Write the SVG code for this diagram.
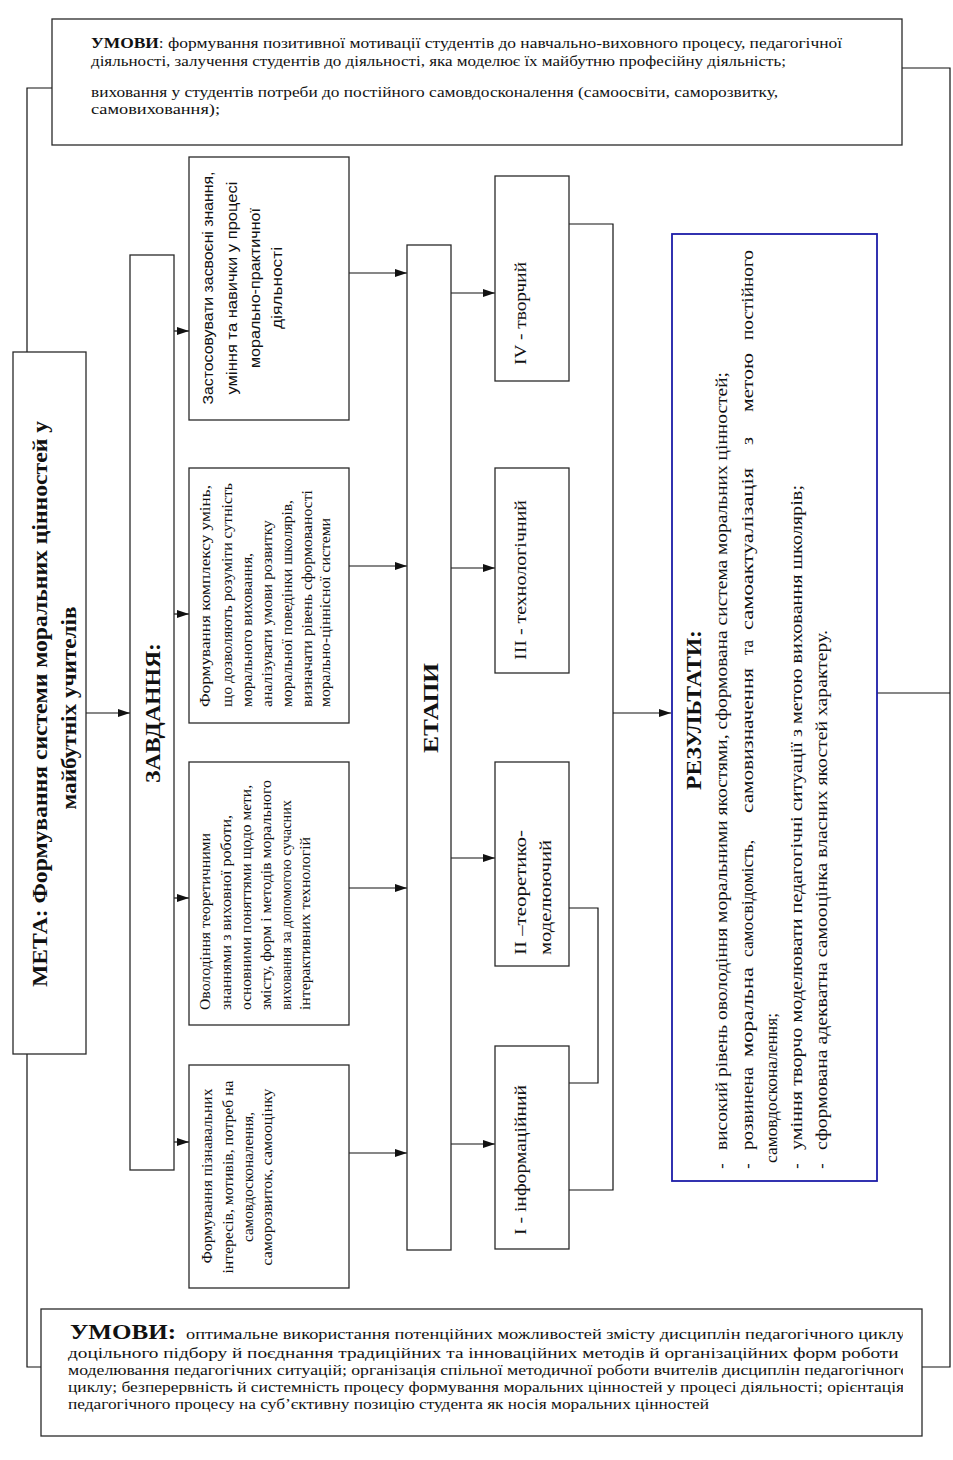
<svg xmlns="http://www.w3.org/2000/svg" width="953" height="1460" viewBox="0 0 953 1460">
<defs>
<style>
.box{fill:#fff;stroke:#2a2a2a;stroke-width:1.3}
.res{fill:#fff;stroke:#1c1ca8;stroke-width:1.8}
.ln{fill:none;stroke:#111;stroke-width:1.2}
.s{font-family:"Liberation Serif","Times New Roman",serif;fill:#111}
.a{font-family:"Liberation Sans",Arial,sans-serif;fill:#111}
.b{font-weight:bold}
.t13{font-size:14.5px}
.t15{font-size:15px}
.t16{font-size:16px}
.t17{font-size:17.5px}
.t20{font-size:21px}
.t22{font-size:22px}
</style>
<marker id="ah" viewBox="0 0 12 8" refX="12" refY="4" markerWidth="12" markerHeight="8" markerUnits="userSpaceOnUse" orient="auto"><path d="M0,0 L12,4 L0,8 z" fill="#111"/></marker>
<clipPath id="clipB"><rect x="40" y="1300" width="863" height="140"/></clipPath>
</defs>
<rect width="953" height="1460" fill="#fff"/>

<g id="connectors">
<path class="ln" d="M52,88 H27 V1367 H41"/>
<path class="ln" d="M902,68 H950 V1367 H922"/>
<path class="ln" d="M877,693 H950"/>
<path class="ln" d="M86,713 H130" marker-end="url(#ah)"/>
<path class="ln" d="M174,331 H189" marker-end="url(#ah)"/>
<path class="ln" d="M174,614 H189" marker-end="url(#ah)"/>
<path class="ln" d="M174,898 H189" marker-end="url(#ah)"/>
<path class="ln" d="M174,1142 H189" marker-end="url(#ah)"/>
<path class="ln" d="M349,273 H407" marker-end="url(#ah)"/>
<path class="ln" d="M349,566 H407" marker-end="url(#ah)"/>
<path class="ln" d="M349,888 H407" marker-end="url(#ah)"/>
<path class="ln" d="M349,1153 H407" marker-end="url(#ah)"/>
<path class="ln" d="M451,293 H495" marker-end="url(#ah)"/>
<path class="ln" d="M451,568 H495" marker-end="url(#ah)"/>
<path class="ln" d="M451,858 H495" marker-end="url(#ah)"/>
<path class="ln" d="M451,1144 H495" marker-end="url(#ah)"/>
<path class="ln" d="M569,224 H613 V1190 H569"/>
<path class="ln" d="M569,908 H598 V1083 H569"/>
<path class="ln" d="M613,713 H671" marker-end="url(#ah)"/>
</g>

<g id="umovy-top">
<rect class="box" x="52" y="19" width="850" height="126"/>
<text class="s t15" x="91" y="48" textLength="751" lengthAdjust="spacingAndGlyphs"><tspan class="b">УМОВИ</tspan>: формування позитивної мотивації студентів до навчально-виховного процесу, педагогічної</text>
<text class="s t15" x="91" y="66" textLength="695" lengthAdjust="spacingAndGlyphs">діяльності, залучення студентів до діяльності, яка моделює їх майбутню професійну діяльність;</text>
<text class="s t15" x="91" y="97" textLength="687" lengthAdjust="spacingAndGlyphs">виховання у студентів потреби до постійного самовдосконалення (самоосвіти, саморозвитку,</text>
<text class="s t15" x="91" y="114" textLength="129" lengthAdjust="spacingAndGlyphs">самовиховання);</text>
</g>

<g id="meta">
<rect class="box" x="13" y="352" width="73" height="702"/>
<text class="s b t22" transform="translate(47,704) rotate(-90)" text-anchor="middle" textLength="566" lengthAdjust="spacingAndGlyphs">МЕТА: Формування системи моральних цінностей у</text>
<text class="s b t22" transform="translate(76,708) rotate(-90)" text-anchor="middle" textLength="203" lengthAdjust="spacingAndGlyphs">майбутніх учителів</text>
</g>

<g id="zavdannia">
<rect class="box" x="130" y="255" width="44" height="915"/>
<text class="s b t22" transform="translate(160,713) rotate(-90)" text-anchor="middle" textLength="140" lengthAdjust="spacingAndGlyphs">ЗАВДАННЯ:</text>
</g>

<g id="task1">
<rect class="box" x="189" y="157" width="160" height="263"/>
<text class="a t15" transform="translate(213,288) rotate(-90)" text-anchor="middle" textLength="233" lengthAdjust="spacingAndGlyphs">Застосовувати засвоєні знання,</text>
<text class="a t15" transform="translate(237,288) rotate(-90)" text-anchor="middle" textLength="213" lengthAdjust="spacingAndGlyphs">уміння та навички у процесі</text>
<text class="a t15" transform="translate(260,288) rotate(-90)" text-anchor="middle" textLength="160" lengthAdjust="spacingAndGlyphs">морально-практичної</text>
<text class="a t15" transform="translate(282,288) rotate(-90)" text-anchor="middle" textLength="82" lengthAdjust="spacingAndGlyphs">діяльності</text>
</g>

<g id="task2">
<rect class="box" x="189" y="468" width="160" height="255"/>
<text class="s t13" transform="translate(210,707) rotate(-90)" textLength="222" lengthAdjust="spacingAndGlyphs">Формування комплексу умінь,</text>
<text class="s t13" transform="translate(232,707) rotate(-90)" textLength="224" lengthAdjust="spacingAndGlyphs">що дозволяють розуміти сутність</text>
<text class="s t13" transform="translate(252,707) rotate(-90)" textLength="154" lengthAdjust="spacingAndGlyphs">морального виховання,</text>
<text class="s t13" transform="translate(272,707) rotate(-90)" textLength="187" lengthAdjust="spacingAndGlyphs">аналізувати умови розвитку</text>
<text class="s t13" transform="translate(292,707) rotate(-90)" textLength="207" lengthAdjust="spacingAndGlyphs">моральної поведінки школярів,</text>
<text class="s t13" transform="translate(312,707) rotate(-90)" textLength="217" lengthAdjust="spacingAndGlyphs">визначати рівень сформованості</text>
<text class="s t13" transform="translate(330,707) rotate(-90)" textLength="189" lengthAdjust="spacingAndGlyphs">морально-ціннісної системи</text>
</g>

<g id="task3">
<rect class="box" x="189" y="762" width="160" height="263"/>
<text class="s t13" transform="translate(210,1010) rotate(-90)" textLength="177" lengthAdjust="spacingAndGlyphs">Оволодіння теоретичними</text>
<text class="s t13" transform="translate(231,1010) rotate(-90)" textLength="195" lengthAdjust="spacingAndGlyphs">знаннями з виховної роботи,</text>
<text class="s t13" transform="translate(251,1010) rotate(-90)" textLength="225" lengthAdjust="spacingAndGlyphs">основними поняттями щодо мети,</text>
<text class="s t13" transform="translate(271,1010) rotate(-90)" textLength="230" lengthAdjust="spacingAndGlyphs">змісту, форм і методів морального</text>
<text class="s t13" transform="translate(291,1010) rotate(-90)" textLength="210" lengthAdjust="spacingAndGlyphs">виховання за допомогою сучасних</text>
<text class="s t13" transform="translate(310,1010) rotate(-90)" textLength="173" lengthAdjust="spacingAndGlyphs">інтерактивних технологій</text>
</g>

<g id="task4">
<rect class="box" x="189" y="1065" width="160" height="223"/>
<text class="s t13" transform="translate(212,1176) rotate(-90)" text-anchor="middle" textLength="175" lengthAdjust="spacingAndGlyphs">Формування пізнавальних</text>
<text class="s t13" transform="translate(233,1177) rotate(-90)" text-anchor="middle" textLength="193" lengthAdjust="spacingAndGlyphs">інтересів, мотивів, потреб на</text>
<text class="s t13" transform="translate(253,1177) rotate(-90)" text-anchor="middle" textLength="130" lengthAdjust="spacingAndGlyphs">самовдосконалення,</text>
<text class="s t13" transform="translate(272,1177) rotate(-90)" text-anchor="middle" textLength="177" lengthAdjust="spacingAndGlyphs">саморозвиток, самооцінку</text>
</g>

<g id="etapy">
<rect class="box" x="407" y="245" width="44" height="1005"/>
<text class="s b t22" transform="translate(438,708) rotate(-90)" text-anchor="middle" textLength="90" lengthAdjust="spacingAndGlyphs">ЕТАПИ</text>
</g>

<g id="stage4">
<rect class="box" x="495" y="176" width="74" height="205"/>
<text class="s t17" transform="translate(526,365) rotate(-90)" textLength="103" lengthAdjust="spacingAndGlyphs">IV - творчий</text>
</g>
<g id="stage3">
<rect class="box" x="495" y="468" width="74" height="205"/>
<text class="s t17" transform="translate(526,660) rotate(-90)" textLength="160" lengthAdjust="spacingAndGlyphs">III - технологічний</text>
</g>
<g id="stage2">
<rect class="box" x="495" y="762" width="74" height="204"/>
<text class="s t17" transform="translate(526,955) rotate(-90)" textLength="125" lengthAdjust="spacingAndGlyphs">II –теоретико-</text>
<text class="s t17" transform="translate(551,955) rotate(-90)" textLength="115" lengthAdjust="spacingAndGlyphs">моделюючий</text>
</g>
<g id="stage1">
<rect class="box" x="495" y="1046" width="74" height="203"/>
<text class="s t17" transform="translate(526,1235) rotate(-90)" textLength="150" lengthAdjust="spacingAndGlyphs">I - інформаційний</text>
</g>

<g id="results">
<rect class="res" x="672" y="234" width="205" height="947"/>
<text class="s b t22" transform="translate(701,710) rotate(-90)" text-anchor="middle" textLength="160" lengthAdjust="spacingAndGlyphs">РЕЗУЛЬТАТИ:</text>
<text class="s t16" transform="translate(727,1166) rotate(-90)" text-anchor="middle">-</text>
<text class="s t16" transform="translate(727,1150) rotate(-90)" textLength="778" lengthAdjust="spacingAndGlyphs">високий рівень оволодіння моральними якостями, сформована система моральних цінностей;</text>
<text class="s t16" transform="translate(753,1166) rotate(-90)" text-anchor="middle">-</text>
<text class="s t16" transform="translate(753,0) rotate(-90)"><tspan x="-1150" textLength="83" lengthAdjust="spacingAndGlyphs">розвинена</tspan><tspan x="-1057" textLength="90" lengthAdjust="spacingAndGlyphs">моральна</tspan><tspan x="-957" textLength="117" lengthAdjust="spacingAndGlyphs">самосвідомість,</tspan><tspan x="-813" textLength="145" lengthAdjust="spacingAndGlyphs">самовизначення</tspan><tspan x="-655" textLength="15" lengthAdjust="spacingAndGlyphs">та</tspan><tspan x="-630" textLength="162" lengthAdjust="spacingAndGlyphs">самоактуалізація</tspan><tspan x="-445" textLength="8" lengthAdjust="spacingAndGlyphs">з</tspan><tspan x="-412" textLength="59" lengthAdjust="spacingAndGlyphs">метою</tspan><tspan x="-340" textLength="90" lengthAdjust="spacingAndGlyphs">постійного</tspan></text>
<text class="s t16" transform="translate(777,1163) rotate(-90)" textLength="150" lengthAdjust="spacingAndGlyphs">самовдосконалення;</text>
<text class="s t16" transform="translate(802,1166) rotate(-90)" text-anchor="middle">-</text>
<text class="s t16" transform="translate(802,1150) rotate(-90)" textLength="665" lengthAdjust="spacingAndGlyphs">уміння творчо моделювати педагогічні ситуації з метою виховання школярів;</text>
<text class="s t16" transform="translate(827,1166) rotate(-90)" text-anchor="middle">-</text>
<text class="s t16" transform="translate(827,1150) rotate(-90)" textLength="520" lengthAdjust="spacingAndGlyphs">сформована адекватна самооцінка власних якостей характеру.</text>
</g>

<g id="umovy-bottom">
<rect class="box" x="41" y="1309" width="881" height="127"/>
<g clip-path="url(#clipB)">
<text class="s t20 b" x="70" y="1339" textLength="106" lengthAdjust="spacingAndGlyphs">УМОВИ:</text>
<text class="s t15" x="186" y="1339" textLength="724" lengthAdjust="spacingAndGlyphs">оптимальне використання потенційних можливостей змісту дисциплін педагогічного циклу;</text>
<text class="s t15" x="68" y="1358" textLength="843" lengthAdjust="spacingAndGlyphs">доцільного підбору й поєднання традиційних та інноваційних методів й організаційних форм роботи з</text>
<text class="s t15" x="68" y="1375" textLength="841" lengthAdjust="spacingAndGlyphs">моделювання педагогічних ситуацій; організація спільної методичної роботи вчителів дисциплін педагогічного</text>
<text class="s t15" x="68" y="1392" textLength="836" lengthAdjust="spacingAndGlyphs">циклу; безперервність й системність процесу формування моральних цінностей у процесі діяльності; орієнтація</text>
<text class="s t15" x="68" y="1409" textLength="641" lengthAdjust="spacingAndGlyphs">педагогічного процесу на суб’єктивну позицію студента як носія моральних цінностей</text>
</g>
</g>
</svg>
